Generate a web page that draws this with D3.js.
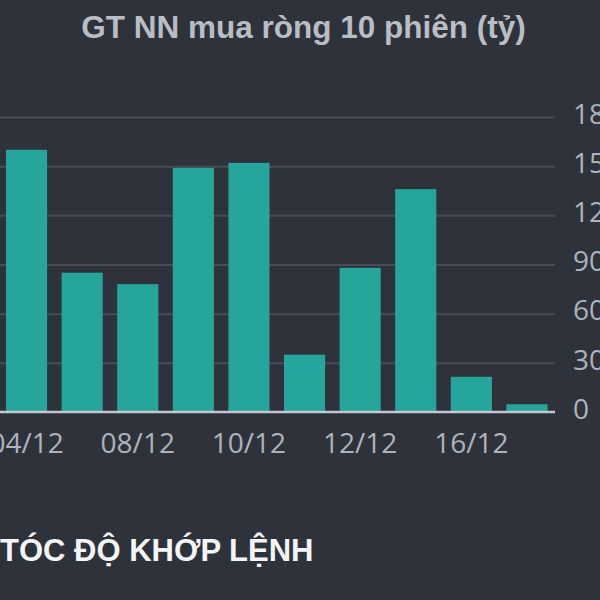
<!DOCTYPE html>
<html>
<head>
<meta charset="utf-8">
<script src="https://cdn.jsdelivr.net/npm/d3@7"></script>
<style>
  html, body { margin: 0; padding: 0; background: #2d323b; overflow: hidden; }
  svg { display: block; }
</style>
</head>
<body>
<svg id="chart" width="600" height="600"></svg>
<script>
const title = "GT NN mua ròng 10 phiên (tỷ)";
const heading = "TÓC ĐỘ KHỚP LỆNH";
const categories = ["04/12", "07/12", "08/12", "09/12", "10/12", "11/12", "12/12", "15/12", "16/12", "17/12"];
const values = [160, 85, 78, 149, 152, 35, 88, 136, 21.5, 4.7];
const shownTicks = ["04/12", "08/12", "10/12", "12/12", "16/12"];
const yTicks = [0, 30, 60, 90, 120, 150, 180];

const svg = d3.select("#chart");
svg.append("rect").attr("width", 600).attr("height", 600).attr("fill", "#2d323b");

const x = d3.scaleBand().domain(categories).range([-1.25, 554.75]).paddingInner(0.26).paddingOuter(0.13);
const y = d3.scaleLinear().domain([0, 180]).range([412, 117]);

// gridlines
const grid = svg.append("g")
  .call(d3.axisLeft(y).tickValues(yTicks.filter(d => d > 0)).tickSize(-556).tickFormat(""));
grid.attr("transform", "translate(-1,0)");
grid.select(".domain").remove();
grid.selectAll("line").attr("stroke", "#474c56").attr("stroke-width", 2);

// bars
svg.append("g").selectAll("rect").data(values).join("rect")
  .attr("x", (d, i) => x(categories[i]))
  .attr("width", x.bandwidth())
  .attr("y", d => y(d))
  .attr("height", d => y(0) - y(d))
  .attr("fill", "#26a69a");

// baseline
svg.append("line").attr("x1", -1).attr("x2", 555).attr("y1", y(0)).attr("y2", y(0))
  .attr("stroke", "#c3c7ce").attr("stroke-width", 2.5);

// x axis labels
const xAxis = svg.append("g").attr("transform", `translate(0,${y(0)})`)
  .call(d3.axisBottom(x).tickValues(shownTicks).tickSize(0).tickPadding(21));
xAxis.select(".domain").remove();
xAxis.selectAll("text").attr("font-family", "'Open Sans', sans-serif").attr("font-size", 28)
  .attr("fill", "#aeb3bb");

// y axis labels
const yAxis = svg.append("g").attr("transform", "translate(555,0)")
  .call(d3.axisRight(y).tickValues(yTicks).tickSize(0).tickPadding(18));
yAxis.select(".domain").remove();
yAxis.selectAll("text").attr("font-family", "'Open Sans', sans-serif").attr("font-size", 28)
  .attr("fill", "#aeb3bb").attr("dy", "0.22em");

// title
svg.append("text").attr("x", 303.5).attr("y", 38).attr("text-anchor", "middle")
  .attr("font-family", "'Liberation Sans', Arial, sans-serif").attr("font-weight", "bold")
  .attr("font-size", 31.5).attr("fill", "#b9bdc4").text(title);

// section heading
svg.append("text").attr("x", 0).attr("y", 561)
  .attr("font-family", "'Liberation Sans', Arial, sans-serif").attr("font-weight", "bold")
  .attr("font-size", 31).attr("fill", "#f4f5f7").text(heading);
</script>
</body>
</html>
